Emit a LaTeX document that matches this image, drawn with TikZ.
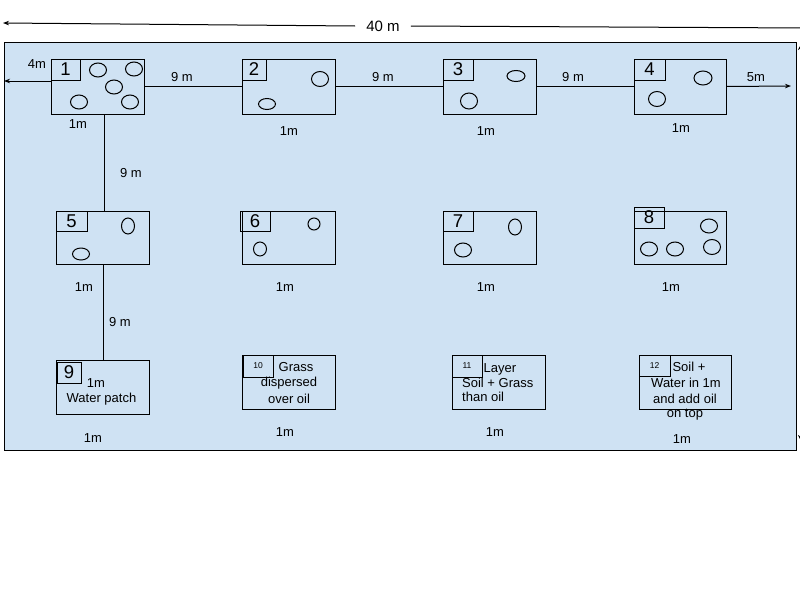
\documentclass[tikz,border=0pt]{standalone}
\usepackage{fontspec}
\setmainfont{Liberation Sans}
\usetikzlibrary{arrows.meta}
\definecolor{fieldblue}{HTML}{CFE2F3}
\tikzset{
  plotbox/.style={draw=black, line width=1pt, inner sep=0pt, outer sep=0pt, anchor=north west},
  numbox/.style={draw=black, line width=1pt, inner sep=0pt, outer sep=0pt, anchor=north west, font=\fontsize{18.5}{18.5}\selectfont},
  smallnum/.style={numbox, font=\fontsize{8.5}{9}\selectfont},
  lbl/.style={font=\fontsize{13}{13}\selectfont, inner sep=0pt},
  conn/.style={line width=1pt, draw=black},
  tipped/.style={-{Stealth[length=6pt,width=4.5pt]}},
  pit/.style={line width=1pt}
}
\begin{document}
\begin{tikzpicture}[x=1pt,y=-1pt]
\useasboundingbox (0,0) rectangle (800,600);
\fill[white] (0,0) rectangle (800,600);
% field
\draw[fill=fieldblue, line width=1pt] (4,42) rectangle (796,450);

% top dimension
\node[font=\fontsize{15}{15}\selectfont, inner sep=0pt, inner xsep=11pt] (d40) at (383,26) {40 m};
\coordinate (tl) at (3,23);
\coordinate (tr) at (808,28);
\draw[conn,tipped] (d40.west) -- (tl);
\draw[conn,tipped] (d40.east) -- (tr);

% right dimension (cut off at the page edge)
\coordinate (rv1) at (801,44);
\coordinate (rv2) at (801,228);
\coordinate (rv3) at (801,246);
\coordinate (rv4) at (801,441);
\draw[conn,-{Stealth[length=6pt,width=6pt]}] (rv2) -- (rv1);
\draw[conn,-{Stealth[length=6pt,width=6pt]}] (rv3) -- (rv4);

% plots
\node[plotbox, minimum width=93pt, minimum height=55pt] (b1) at (51,59) {};
\node[plotbox, minimum width=93pt, minimum height=55pt] (b2) at (242,59) {};
\node[plotbox, minimum width=93pt, minimum height=55pt] (b3) at (443,59) {};
\node[plotbox, minimum width=92pt, minimum height=55pt] (b4) at (634,59) {};
\node[plotbox, minimum width=93pt, minimum height=53pt] (b5) at (56,211) {};
\node[plotbox, minimum width=93pt, minimum height=53pt] (b6) at (242,211) {};
\node[plotbox, minimum width=93pt, minimum height=53pt] (b7) at (443,211) {};
\node[plotbox, minimum width=92pt, minimum height=53pt] (b8) at (634,211) {};
\node[plotbox, minimum width=93pt, minimum height=54pt] (b9) at (56,360) {};
\node[plotbox, minimum width=93pt, minimum height=54pt] (b10) at (242,355) {};
\node[plotbox, minimum width=93pt, minimum height=54pt] (b11) at (452,355) {};
\node[plotbox, minimum width=92pt, minimum height=54pt] (b12) at (639,355) {};

% number boxes
\node[numbox, minimum width=29pt, minimum height=21pt] (n1) at (51,59) {1};
\node[numbox, minimum width=24pt, minimum height=21pt] (n2) at (242,59) {2};
\node[numbox, minimum width=30pt, minimum height=21pt] (n3) at (443,59) {3};
\node[numbox, minimum width=31pt, minimum height=21pt] (n4) at (634,59) {4};
\node[numbox, minimum width=31pt, minimum height=20pt] (n5) at (56,211) {5};
\node[numbox, minimum width=30pt, minimum height=20pt] (n6) at (240,211) {6};
\node[numbox, minimum width=30pt, minimum height=20pt] (n7) at (443,211) {7};
\node[numbox, minimum width=30pt, minimum height=21pt] (n8) at (634,207) {8};
\node[numbox, minimum width=24pt, minimum height=21pt] (n9) at (57,362) {9};
\node[smallnum, minimum width=30pt, minimum height=22pt] (n10) at (243,355) {10};
\node[smallnum, minimum width=30pt, minimum height=22pt] (n11) at (452,355) {11};
\node[smallnum, minimum width=31pt, minimum height=21pt] (n12) at (639,355) {12};

% pits
\draw[pit] (98,70) ellipse [x radius=8.5pt, y radius=7pt];
\draw[pit] (134,69) ellipse [x radius=8.5pt, y radius=7pt];
\draw[pit] (114,87) ellipse [x radius=8.5pt, y radius=7pt];
\draw[pit] (79,102) ellipse [x radius=8.5pt, y radius=7pt];
\draw[pit] (130,102) ellipse [x radius=8.5pt, y radius=7pt];
\draw[pit] (320,79) ellipse [x radius=8.5pt, y radius=7.5pt];
\draw[pit] (267,104) ellipse [x radius=8.5pt, y radius=5.5pt];
\draw[pit] (516,76) ellipse [x radius=9pt, y radius=5.5pt];
\draw[pit] (469,101) ellipse [x radius=8.5pt, y radius=8pt];
\draw[pit] (703,78) ellipse [x radius=9pt, y radius=7pt];
\draw[pit] (657,99) ellipse [x radius=8.5pt, y radius=7.5pt];
\draw[pit] (128,226) ellipse [x radius=6.5pt, y radius=8pt];
\draw[pit] (81,254) ellipse [x radius=8.5pt, y radius=6pt];
\draw[pit] (314,224) ellipse [x radius=6pt, y radius=6pt];
\draw[pit] (260,249) ellipse [x radius=6.5pt, y radius=7pt];
\draw[pit] (515,227) ellipse [x radius=6.5pt, y radius=8pt];
\draw[pit] (463,250) ellipse [x radius=8.5pt, y radius=7pt];
\draw[pit] (709,226) ellipse [x radius=8.5pt, y radius=7pt];
\draw[pit] (712,247) ellipse [x radius=8.5pt, y radius=7.5pt];
\draw[pit] (649,249) ellipse [x radius=8.5pt, y radius=7pt];
\draw[pit] (675,249) ellipse [x radius=8.5pt, y radius=7pt];

% connectors
\draw[conn] (b1.east) -- (b2.west);
\draw[conn] (b2.east) -- (b3.west);
\draw[conn] (b3.east) -- (b4.west);
\coordinate (w4) at (4,81);
\draw[conn,tipped] (b1.west |- w4) -- (w4);
\coordinate (e5) at (791,86);
\draw[conn,tipped] (b4.east) -- (e5);
\coordinate (v1) at (104,0);
\draw[conn] (b1.south -| v1) -- (b5.north -| v1);
\coordinate (v2) at (103,0);
\draw[conn] (b5.south -| v2) -- (b9.north -| v2);

% distance labels
\node[lbl] (l4m) at (37,64) {4m};
\node[lbl] (l12) at (182,77) {9 m};
\node[lbl] (l23) at (383,77) {9 m};
\node[lbl] (l34) at (573,77) {9 m};
\node[lbl] (l5m) at (756,77) {5m};
\node[lbl] (l15) at (131,173) {9 m};
\node[lbl] (l59) at (120,322) {9 m};

% size labels
\node[lbl] (s1) at (78,124) {1m};
\node[lbl] (s2) at (289,131) {1m};
\node[lbl] (s3) at (486,131) {1m};
\node[lbl] (s4) at (681,128) {1m};
\node[lbl] (s5) at (84,287) {1m};
\node[lbl] (s6) at (285,287) {1m};
\node[lbl] (s7) at (486,287) {1m};
\node[lbl] (s8) at (671,287) {1m};
\node[lbl] (s9) at (93,438) {1m};
\node[lbl] (s10) at (285,432) {1m};
\node[lbl] (s11) at (495,432) {1m};
\node[lbl] (s12) at (682,439) {1m};

% plot descriptions
\node[lbl] (t9a) at (96,383) {1m};
\node[lbl] (t9b) at (101.5,399) {Water patch};
\node[lbl] (t10a) at (296,367) {Grass};
\node[lbl] (t10b) at (289,383) {dispersed};
\node[lbl] (t10c) at (289,399) {over oil};
\node[lbl] (t11a) at (500,369) {Layer};
\node[lbl, anchor=west] (t11b) at (462,383) {Soil + Grass};
\node[lbl, anchor=west] (t11c) at (462,397) {than oil};
\node[lbl] (t12a) at (689,367) {Soil +};
\node[lbl] (t12b) at (686,383) {Water in 1m};
\node[lbl] (t12c) at (685,399) {and add oil};
\node[lbl] (t12d) at (685,415) {on top};
\end{tikzpicture}
\end{document}
